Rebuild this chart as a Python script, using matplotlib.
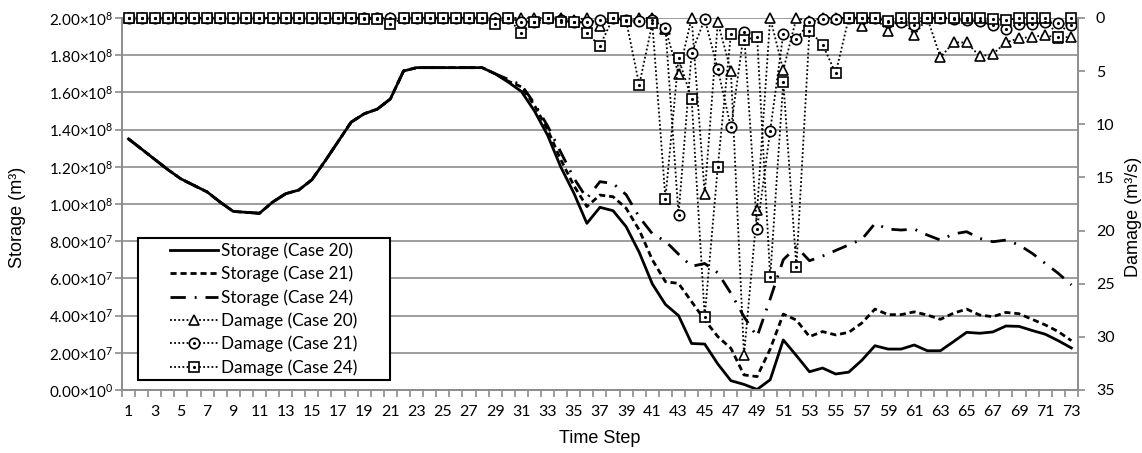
import numpy as np
import matplotlib
matplotlib.use('Agg')
import matplotlib.pyplot as plt
from matplotlib.ticker import FuncFormatter, MultipleLocator
from matplotlib.patches import Rectangle

plt.rcParams['font.family'] = ['Lato', 'DejaVu Sans']
plt.rcParams['mathtext.fontset'] = 'custom'
plt.rcParams['mathtext.rm'] = 'Lato'
plt.rcParams['mathtext.default'] = 'regular'

time_step = np.arange(1, 74)

# storage in units of 1e7 m3; time steps 1-28 are the same for all cases
storage_common = [13.5, 12.95, 12.4, 11.85, 11.35, 11.0, 10.65, 10.1, 9.6, 9.55,
                  9.5, 10.1, 10.55, 10.75, 11.3, 12.3, 13.35, 14.4, 14.85, 15.1,
                  15.65, 17.15, 17.33, 17.33, 17.33, 17.33, 17.33, 17.33]
storage_20_tail = [17.0, 16.55, 16.05, 15.0, 13.7, 12.0, 10.6, 8.96, 9.82, 9.64,
                   8.78, 7.4, 5.7, 4.6, 4.0, 2.5, 2.47, 1.4, 0.5, 0.3,
                   0.03, 0.55, 2.69, 1.85, 0.98, 1.18, 0.86, 0.96, 1.6, 2.38,
                   2.2, 2.2, 2.42, 2.11, 2.11, 2.6, 3.1, 3.05, 3.12, 3.44,
                   3.42, 3.2, 3.0, 2.65, 2.26]
storage_21_tail = [17.0, 16.6, 16.3, 15.3, 14.0, 12.4, 11.0, 9.86, 10.48, 10.39,
                   9.77, 8.6, 7.0, 5.82, 5.73, 4.75, 3.76, 2.87, 2.24, 0.81,
                   0.72, 2.2, 4.08, 3.76, 2.87, 3.14, 2.96, 3.1, 3.6, 4.35,
                   4.05, 4.05, 4.2, 4.03, 3.8, 4.13, 4.35, 4.03, 3.94, 4.17,
                   4.1, 3.8, 3.5, 3.14, 2.65]
storage_24_tail = [17.0, 16.7, 16.4, 15.4, 14.2, 12.8, 11.4, 10.3, 11.2, 11.1,
                   10.5, 9.3, 8.4, 8.0, 7.3, 6.65, 6.8, 6.3, 5.2, 3.94,
                   2.87, 4.9, 7.0, 7.7, 6.95, 7.2, 7.5, 7.8, 8.1, 8.95,
                   8.65, 8.6, 8.65, 8.33, 8.06, 8.39, 8.51, 8.15, 7.97, 8.06,
                   7.8, 7.35, 6.81, 6.27, 5.65]

storage_20 = np.array(storage_common + storage_20_tail) * 1e7
storage_21 = np.array(storage_common + storage_21_tail) * 1e7
storage_24 = np.array(storage_common + storage_24_tail) * 1e7

# damage (m3/s), time steps 1-73
damage_20 = [0] * 34 + [0.2, 0, 0.8, 0, 0.25, 0, 0, 1.0, 5.3, 0,
                        16.6, 0.4, 5.0, 31.7, 18.1, 0, 4.9, 0, 0.3, 0,
                        0, 0, 0.75, 0, 1.2, 0, 1.6, 0, 3.7, 2.3,
                        2.3, 3.6, 3.4, 2.3, 1.9, 1.8, 1.6, 1.9, 1.75]
damage_21 = [0] * 30 + [0.35, 0.35, 0, 0.2, 0.35, 0.4, 0.2, 0, 0.2, 0.3,
                        0.2, 0.9, 18.5, 3.3, 0.1, 4.8, 10.3, 1.35, 19.9, 10.6,
                        1.5, 2.0, 0.4, 0.1, 0.1, 0, 0, 0, 0.35, 0.4,
                        0.65, 0, 0, 0.1, 0.2, 0.3, 0.7, 1.0, 0.6, 0.6,
                        0.4, 0.5, 0.65]
damage_24 = [0] * 18 + [0.1, 0.1, 0.6, 0, 0, 0, 0, 0, 0, 0,
                        0.6, 0, 1.45, 0.35, 0, 0.35, 0.35, 1.45, 2.6, 0,
                        0.25, 6.3, 0.5, 17.0, 3.8, 7.6, 28.1, 14.0, 1.5, 2.1,
                        1.75, 24.4, 6.0, 23.4, 1.2, 2.5, 5.2, 0, 0, 0,
                        0.3, 0, 0, 0, 0, 0, 0, 0, 0.1, 0.2,
                        0, 0, 0, 1.8, 0]

grey = '#8c8c8c'

fig = plt.figure(figsize=(11.42, 4.53), dpi=100)
ax = fig.add_axes([0.1068, 0.1391, 0.8371, 0.8212])

ls_dash = (0, (2.2, 1.4))
ls_dashdot = (0, (5.5, 3.2, 0.7, 3.2))
l20, = ax.plot(time_step, storage_20, color='black', lw=2.0, solid_joinstyle='round')
l21, = ax.plot(time_step, storage_21, color='black', lw=2.0, linestyle=ls_dash)
l24, = ax.plot(time_step, storage_24, color='black', lw=2.0, linestyle=ls_dashdot)

ax.set_xlim(0.5, 73.5)
ax.set_ylim(0, 2e8)
ax.yaxis.set_major_locator(MultipleLocator(2e7))


def sci_fmt(v, pos):
    if v <= 0:
        return '0.00×10$^{0}$'
    e = int(np.floor(np.log10(v) + 1e-9))
    return '%.2f×10$^{%d}$' % (v / 10 ** e, e)


ax.yaxis.set_major_formatter(FuncFormatter(sci_fmt))
ax.grid(axis='y', color=grey, lw=1.2)
ax.set_axisbelow(True)
ax.set_xticks(np.arange(1, 74, 2))
ax.set_xticks(np.arange(0.5, 74, 1), minor=True)
ax.tick_params(axis='x', which='major', length=0, pad=11, labelsize=11.5)
ax.tick_params(axis='x', which='minor', length=5, color=grey, width=1.2)
ax.tick_params(axis='y', length=5, color=grey, width=1.2, pad=1, labelsize=11)
for s in ['left', 'bottom', 'right']:
    ax.spines[s].set_color(grey)
    ax.spines[s].set_linewidth(1.2)
ax.spines['top'].set_visible(False)
ax.set_xlabel('Time Step', fontsize=13, family=['Liberation Sans'], labelpad=8)
ax.set_ylabel('Storage (m³)', fontsize=13, family=['Liberation Sans'])
ax.yaxis.set_label_coords(-0.100, 0.465)

ax2 = ax.twinx()
dot_ls = (0, (1, 1.3))
mk = dict(color='black', lw=1.3, linestyle=dot_ls, markersize=7.5,
          markerfacecolor='white', markeredgecolor='black', markeredgewidth=1.2,
          clip_on=False)
d20, = ax2.plot(time_step, damage_20, marker='^', **mk)
d21, = ax2.plot(time_step, damage_21, marker='o', **mk)
d24, = ax2.plot(time_step, damage_24, marker='s', **mk)
c21, = ax2.plot(time_step, damage_21, linestyle='none', marker='.', markersize=2.5,
                color='black', clip_on=False)
c24, = ax2.plot(time_step, damage_24, linestyle='none', marker='.', markersize=2.5,
                color='black', clip_on=False)
ax2.set_ylim(35, 0)
ax2.set_yticks(np.arange(0, 36, 5))
ax2.tick_params(axis='y', length=5, color=grey, width=1.2, pad=8, labelsize=11.5)
for s in ['left', 'bottom', 'right']:
    ax2.spines[s].set_color(grey)
    ax2.spines[s].set_linewidth(1.2)
ax2.spines['top'].set_visible(False)
ax2.set_ylabel('Damage (m³/s)', fontsize=13, family=['Liberation Sans'])
ax2.yaxis.set_label_coords(1.049, 0.465)

# legend box (Excel style, entries centred in a wider frame)
box_x0, box_x1, box_y0, box_y1 = 0.0164, 0.2803, 0.0269, 0.4086
ax2.add_patch(Rectangle((box_x0, box_y0), box_x1 - box_x0, box_y1 - box_y0,
                        transform=ax2.transAxes, facecolor='white', edgecolor='black',
                        lw=1.5, zorder=4.5, clip_on=False))
leg = ax2.legend([l20, l21, l24, d20, (d21, c21), (d24, c24)],
                 ['Storage (Case 20)', 'Storage (Case 21)', 'Storage (Case 24)',
                  'Damage (Case 20)', 'Damage (Case 21)', 'Damage (Case 24)'],
                 loc='center', bbox_to_anchor=((box_x0 + box_x1) / 2, (box_y0 + box_y1) / 2),
                 borderaxespad=0, fontsize=12.3, handlelength=2.8, labelspacing=0.4,
                 frameon=False, borderpad=0.2, handletextpad=0.2)
leg.set_zorder(5)

plt.savefig('out.png', dpi=100)
